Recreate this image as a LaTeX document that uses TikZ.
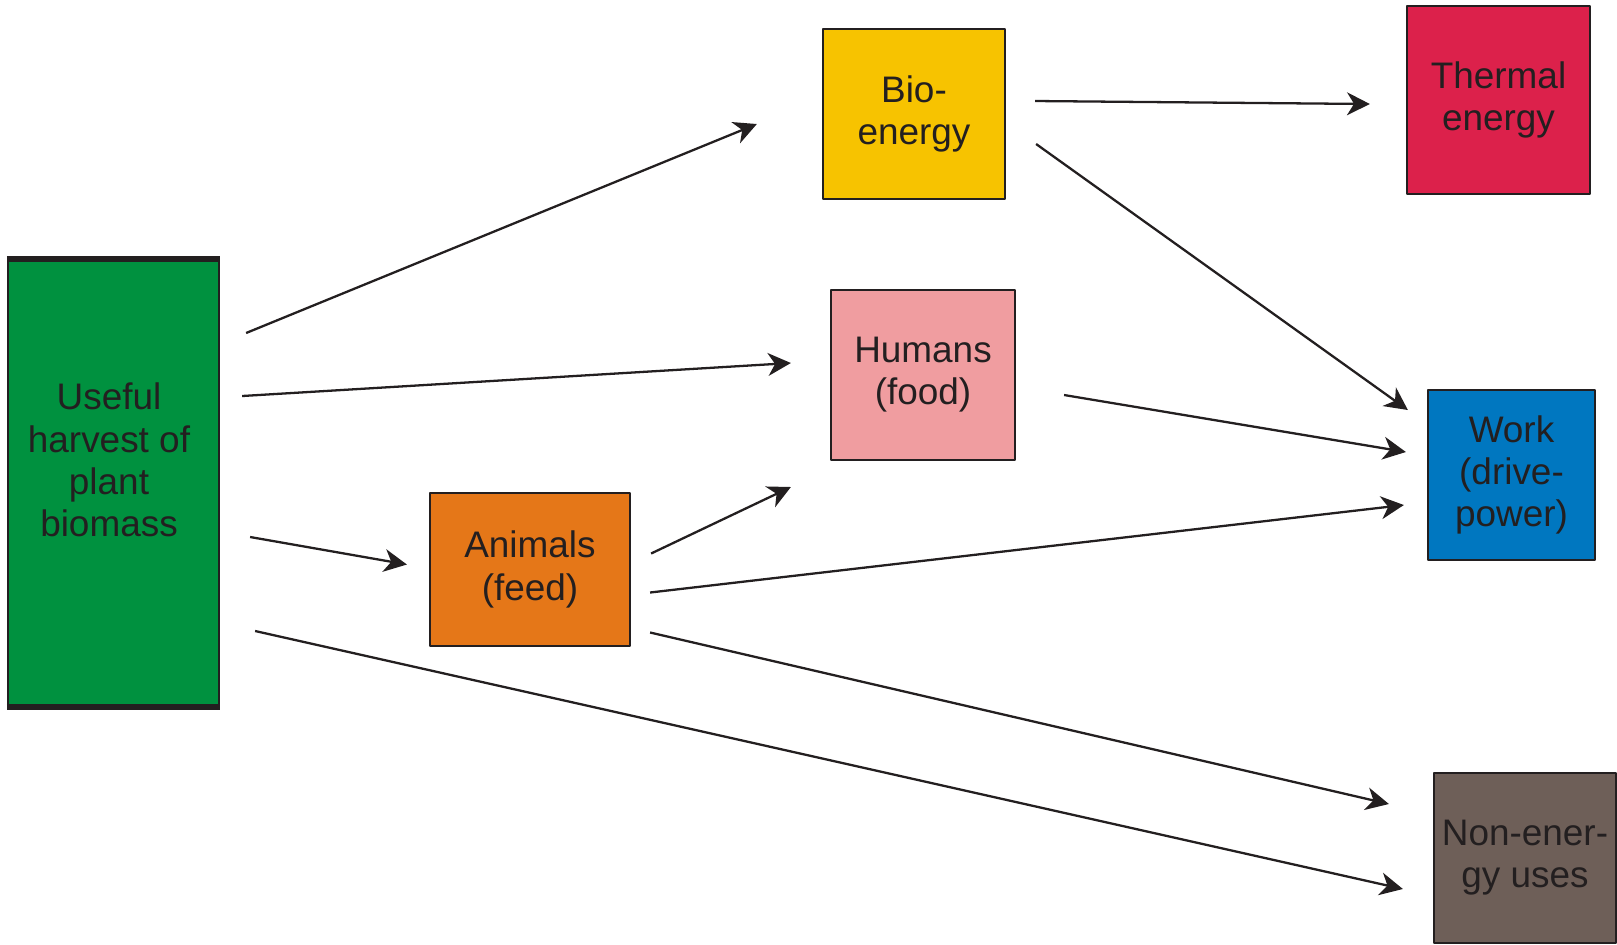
\documentclass[tikz,border=0pt]{standalone}
\usepackage{fontspec}
\setmainfont{Liberation Sans}
\usetikzlibrary{arrows.meta}
\definecolor{ink}{HTML}{231F20}
\definecolor{cgreen}{HTML}{00913F}
\definecolor{cyellow}{HTML}{F7C300}
\definecolor{cred}{HTML}{DC214B}
\definecolor{cpink}{HTML}{F09DA0}
\definecolor{corange}{HTML}{E57718}
\definecolor{cblue}{HTML}{0077C0}
\definecolor{cbrown}{HTML}{6E5F58}
\begin{document}
\begin{tikzpicture}[x=0.01cm,y=-0.01cm,line join=round,>={Stealth[length=6.5pt,width=6.5pt,inset=2pt]}]
        \tikzset{label text/.style={inner sep=0pt,align=center,text=ink,font=\fontsize{10.5}{12}\selectfont},
                 box/.style={label text,draw=ink,line width=0.6pt},
                 flow/.style={->,draw=ink,line width=0.65pt}}
        \useasboundingbox (0,0) rectangle (1617,944);
        % boxes
        \node[box,fill=cgreen,minimum width=2.11cm,minimum height=4.46cm] (harvest) at (113.5,483) {};
        \draw[ink,line width=1.8pt] (harvest.north west)--(harvest.north east);
        \draw[ink,line width=1.8pt] (harvest.south west)--(harvest.south east);
        \node[label text] (harvesttext) at (109,460) {Useful\\harvest of\\plant\\biomass};
        \node[box,fill=cyellow,minimum width=1.82cm,minimum height=1.70cm] (bio) at (914,114) {Bio-\\energy};
        \node[box,fill=cred,minimum width=1.83cm,minimum height=1.88cm] (thermal) at (1498.5,100) {Thermal\\energy};
        \node[box,fill=cpink,minimum width=1.84cm,minimum height=1.70cm] (humans) at (923,375) {Humans\\(food)};
        \node[box,fill=corange,minimum width=2.00cm,minimum height=1.53cm] (animals) at (530,569.5) {Animals\\(feed)};
        \node[box,fill=cblue,minimum width=1.67cm,minimum height=1.70cm] (work) at (1511.5,475) {Work\\(drive-\\power)};
        \node[box,fill=cbrown,minimum width=1.82cm,minimum height=1.70cm] (nonenergy) at (1525,858) {Non-ener-\\gy uses};
        % flows
        \draw[flow] ([shift={(26,-150)}]harvest.east)--([shift={(-65,10)}]bio.west);
        \draw[flow] ([shift={(22,-87)}]harvest.east)--([shift={(-39,-12)}]humans.west);
        \draw[flow] ([shift={(30,54)}]harvest.east)--([shift={(-22,-5)}]animals.west);
        \draw[flow] ([shift={(35,148)}]harvest.east)--([shift={(-30,31)}]nonenergy.west);
        \draw[flow] ([shift={(29,-13)}]bio.east)--([shift={(-36,4)}]thermal.west);
        \draw[flow] ([shift={(30,30)}]bio.east)--([shift={(-19,-65)}]work.west);
        \draw[flow] ([shift={(48,20)}]humans.east)--([shift={(-21,-23)}]work.west);
        \draw[flow] ([shift={(20,-16)}]animals.east)--([shift={(-39,112)}]humans.west);
        \draw[flow] ([shift={(19,23)}]animals.east)--([shift={(-23,30)}]work.west);
        \draw[flow] ([shift={(19,63)}]animals.east)--([shift={(-44,-54)}]nonenergy.west);
    \end{tikzpicture}
\end{document}
